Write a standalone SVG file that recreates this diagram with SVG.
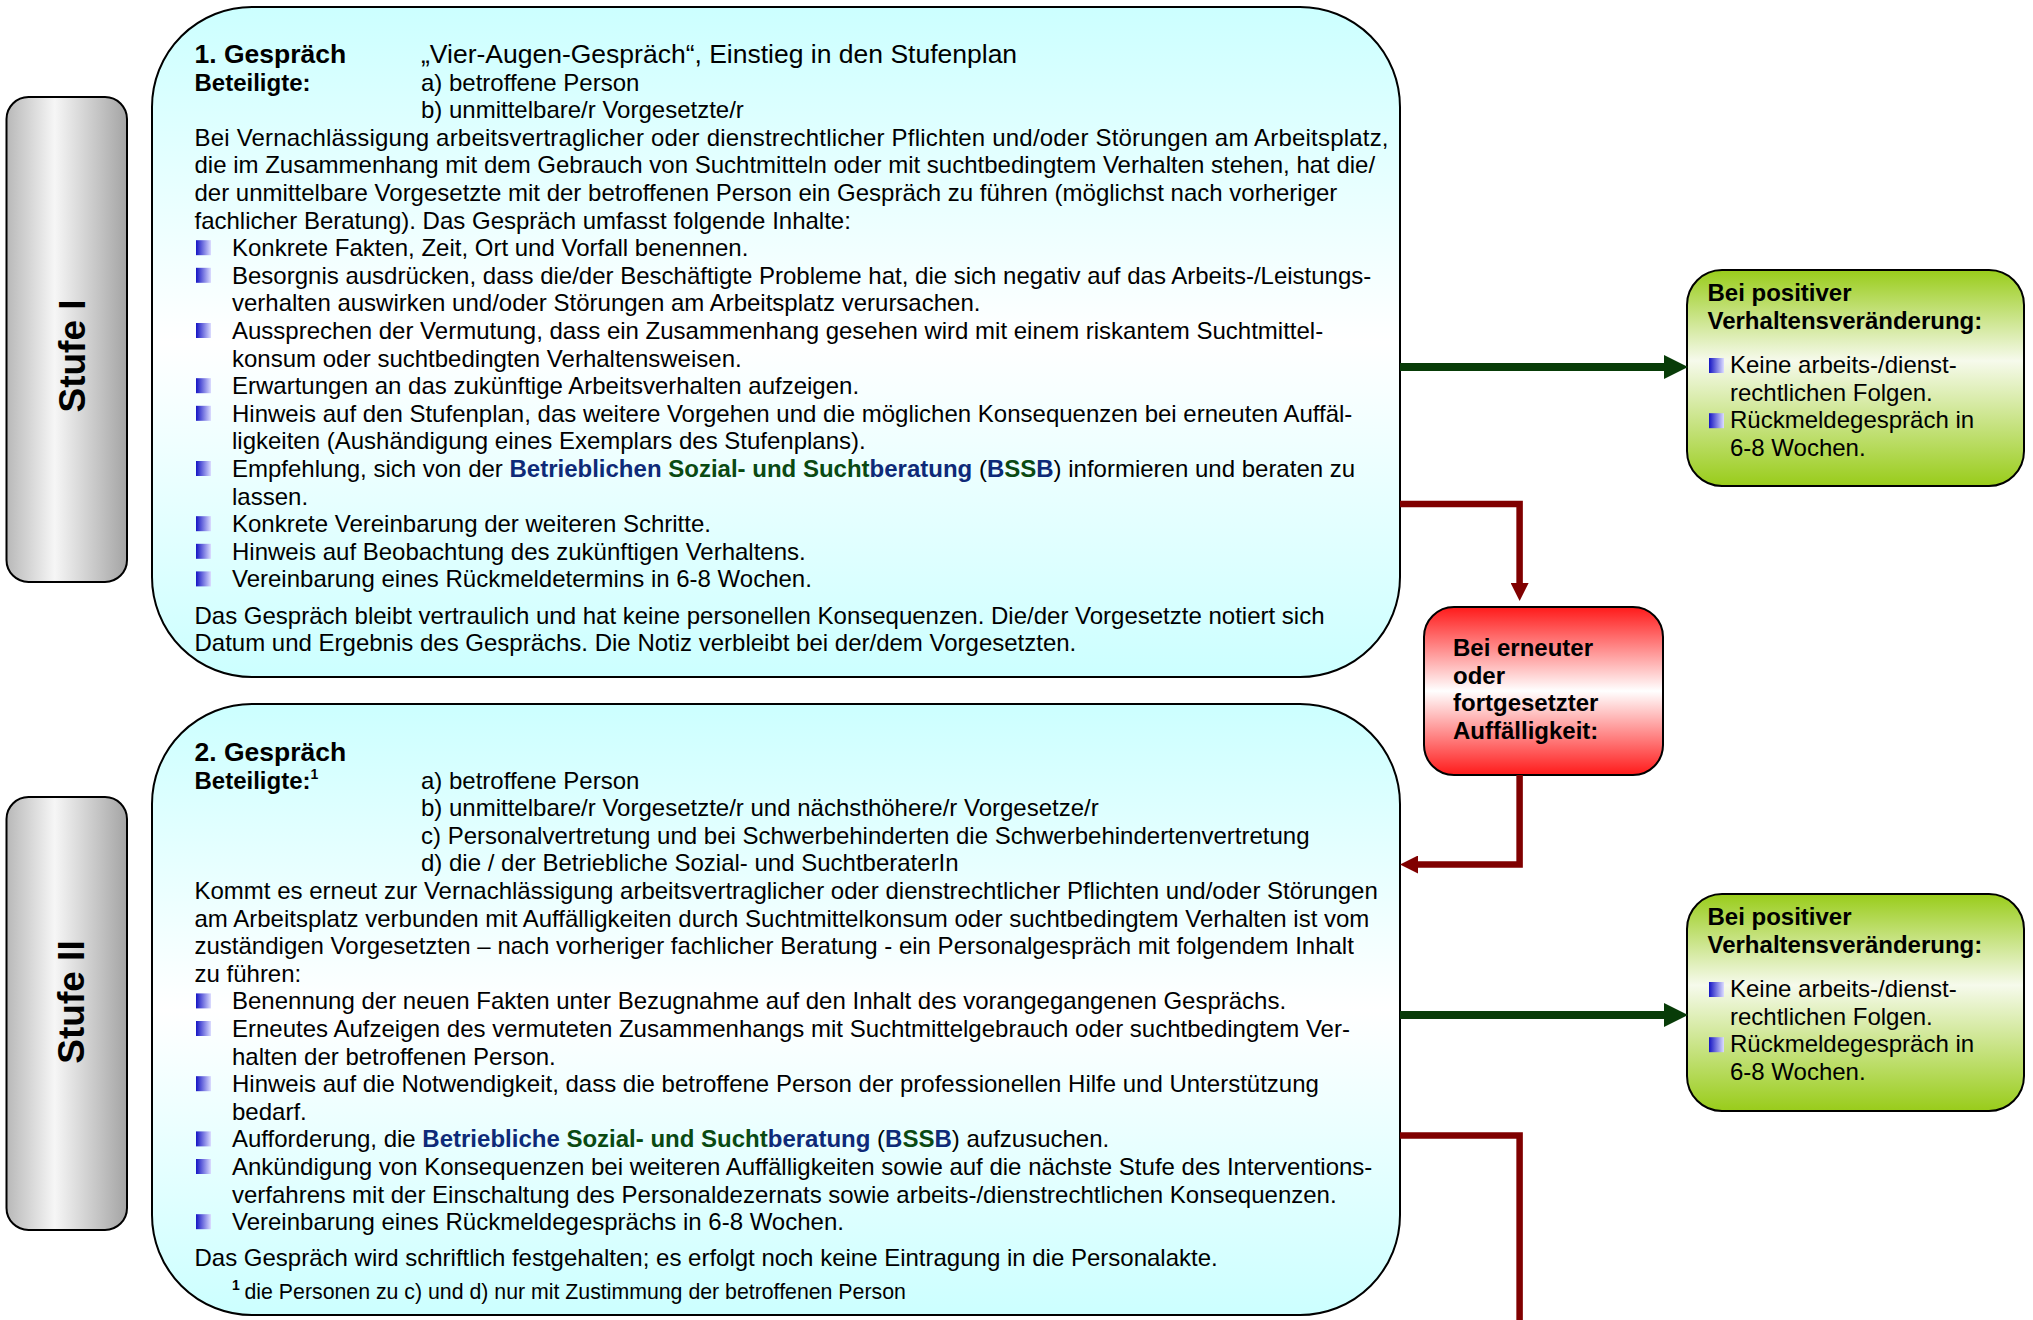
<svg xmlns="http://www.w3.org/2000/svg" width="2033" height="1320" viewBox="0 0 2033 1320">
<defs>
  <linearGradient id="gCyan" x1="0" y1="0" x2="0" y2="1">
    <stop offset="0" stop-color="#ccffff"/>
    <stop offset="0.5" stop-color="#ffffff"/>
    <stop offset="1" stop-color="#ccffff"/>
  </linearGradient>
  <linearGradient id="gGrey" x1="0" y1="0" x2="1" y2="0">
    <stop offset="0" stop-color="#b8b8b8"/>
    <stop offset="0.4" stop-color="#f6f6f6"/>
    <stop offset="1" stop-color="#a4a4a4"/>
  </linearGradient>
  <linearGradient id="gGreen" x1="0" y1="0" x2="0" y2="1">
    <stop offset="0" stop-color="#99cc1a"/>
    <stop offset="0.42" stop-color="#f6faec"/>
    <stop offset="1" stop-color="#99cc1a"/>
  </linearGradient>
  <linearGradient id="gRed" x1="0" y1="0" x2="0" y2="1">
    <stop offset="0" stop-color="#ff1a1a"/>
    <stop offset="0.5" stop-color="#ffffff"/>
    <stop offset="1" stop-color="#ff1a1a"/>
  </linearGradient>
  <linearGradient id="gBullet" x1="0" y1="0" x2="1" y2="0">
    <stop offset="0" stop-color="#1414c4"/>
    <stop offset="1" stop-color="#dcdcff"/>
  </linearGradient>
  <marker id="arrGreen" markerUnits="userSpaceOnUse" markerWidth="24" markerHeight="24" refX="0" refY="12" orient="auto">
    <path d="M0,0 L24,12 L0,24 Z" fill="#083c08"/>
  </marker>
  <marker id="arrRed" markerUnits="userSpaceOnUse" markerWidth="18" markerHeight="18" refX="0" refY="9" orient="auto">
    <path d="M0,0 L18,9 L0,18 Z" fill="#800000"/>
  </marker>
  <style>
    text { font-family: "Liberation Sans", Arial, sans-serif; fill: #000; }
    .box { stroke: #000; stroke-width: 2; }
    .t { font-size: 24px; }
    .tl { font-size: 26.5px; }
    .b { font-weight: bold; }
    .fn { font-size: 21.3px; }
    .sup { font-size: 14px; font-weight: bold; }
    .lbl { font-size: 37px; font-weight: bold; }
    .blue { fill: #0e2a78; font-weight: bold; }
    .green { fill: #0a4a12; font-weight: bold; }
    .bl { fill: url(#gBullet); }
    .cg { fill: none; stroke: #083c08; stroke-width: 8; }
    .cr { fill: none; stroke: #800000; stroke-width: 6.5; }
  </style>
</defs>

<g id="stufe1-label">
  <rect class="box" x="6.5" y="97" width="120.5" height="485" rx="22" fill="url(#gGrey)"/>
  <text class="lbl" text-anchor="middle" transform="translate(85,356) rotate(-90)">Stufe I</text>
</g>

<g id="stufe2-label">
  <rect class="box" x="6.5" y="797" width="120.5" height="433" rx="22" fill="url(#gGrey)"/>
  <text class="lbl" text-anchor="middle" transform="translate(84,1002) rotate(-90)">Stufe II</text>
</g>

<g id="gespraech1">
  <rect class="box" x="152" y="7" width="1248" height="670" rx="100" fill="url(#gCyan)"/>
  <text class="tl b" x="194.5" y="63">1. Gespräch</text>
  <text class="tl" x="421" y="63">„Vier-Augen-Gespräch“, Einstieg in den Stufenplan</text>
  <text class="t b" x="194.5" y="90.6">Beteiligte:</text>
  <text class="t" x="421" y="90.6">a) betroffene Person</text>
  <text class="t" x="421" y="118.2">b) unmittelbare/r Vorgesetzte/r</text>
  <text class="t" x="194.5" y="145.8" textLength="1194" lengthAdjust="spacing">Bei Vernachlässigung arbeitsvertraglicher oder dienstrechtlicher Pflichten und/oder Störungen am Arbeitsplatz,</text>
  <text class="t" x="194.5" y="173.4">die im Zusammenhang mit dem Gebrauch von Suchtmitteln oder mit suchtbedingtem Verhalten stehen, hat die/</text>
  <text class="t" x="194.5" y="201">der unmittelbare Vorgesetzte mit der betroffenen Person ein Gespräch zu führen (möglichst nach vorheriger</text>
  <text class="t" x="194.5" y="228.6">fachlicher Beratung). Das Gespräch umfasst folgende Inhalte:</text>
  <rect class="bl" x="196" y="240.2" width="15" height="15"/>
  <text class="t" x="232" y="256.2">Konkrete Fakten, Zeit, Ort und Vorfall benennen.</text>
  <rect class="bl" x="196" y="267.8" width="15" height="15"/>
  <text class="t" x="232" y="283.8">Besorgnis ausdrücken, dass die/der Beschäftigte Probleme hat, die sich negativ auf das Arbeits-/Leistungs-</text>
  <text class="t" x="232" y="311.4">verhalten auswirken und/oder Störungen am Arbeitsplatz verursachen.</text>
  <rect class="bl" x="196" y="323" width="15" height="15"/>
  <text class="t" x="232" y="339">Aussprechen der Vermutung, dass ein Zusammenhang gesehen wird mit einem riskantem Suchtmittel-</text>
  <text class="t" x="232" y="366.6">konsum oder suchtbedingten Verhaltensweisen.</text>
  <rect class="bl" x="196" y="378.2" width="15" height="15"/>
  <text class="t" x="232" y="394.2">Erwartungen an das zukünftige Arbeitsverhalten aufzeigen.</text>
  <rect class="bl" x="196" y="405.8" width="15" height="15"/>
  <text class="t" x="232" y="421.8">Hinweis auf den Stufenplan, das weitere Vorgehen und die möglichen Konsequenzen bei erneuten Auffäl-</text>
  <text class="t" x="232" y="449.4">ligkeiten (Aushändigung eines Exemplars des Stufenplans).</text>
  <rect class="bl" x="196" y="461" width="15" height="15"/>
  <text class="t" x="232" y="477">Empfehlung, sich von der <tspan class="blue">Betrieblichen </tspan><tspan class="green">Sozial- und Sucht</tspan><tspan class="blue">beratung</tspan> (<tspan class="blue">B</tspan><tspan class="green">SS</tspan><tspan class="blue">B</tspan>) informieren und beraten zu</text>
  <text class="t" x="232" y="504.6">lassen.</text>
  <rect class="bl" x="196" y="516.2" width="15" height="15"/>
  <text class="t" x="232" y="532.2">Konkrete Vereinbarung der weiteren Schritte.</text>
  <rect class="bl" x="196" y="543.8" width="15" height="15"/>
  <text class="t" x="232" y="559.8">Hinweis auf Beobachtung des zukünftigen Verhaltens.</text>
  <rect class="bl" x="196" y="571.4" width="15" height="15"/>
  <text class="t" x="232" y="587.4">Vereinbarung eines Rückmeldetermins in 6-8 Wochen.</text>
  <text class="t" x="194.5" y="623.5">Das Gespräch bleibt vertraulich und hat keine personellen Konsequenzen. Die/der Vorgesetzte notiert sich</text>
  <text class="t" x="194.5" y="651.1">Datum und Ergebnis des Gesprächs. Die Notiz verbleibt bei der/dem Vorgesetzten.</text>
</g>

<g id="gespraech2">
  <rect class="box" x="152" y="704" width="1248" height="611" rx="100" fill="url(#gCyan)"/>
  <text class="tl b" x="194.5" y="761">2. Gespräch</text>
  <text class="t b" x="194.5" y="788.6">Beteiligte:<tspan class="sup" dy="-10">1</tspan></text>
  <text class="t" x="421" y="788.6">a) betroffene Person</text>
  <text class="t" x="421" y="816.2">b) unmittelbare/r Vorgesetzte/r und nächsthöhere/r Vorgesetze/r</text>
  <text class="t" x="421" y="843.8">c) Personalvertretung und bei Schwerbehinderten die Schwerbehindertenvertretung</text>
  <text class="t" x="421" y="871.4">d) die / der Betriebliche Sozial- und SuchtberaterIn</text>
  <text class="t" x="194.5" y="899">Kommt es erneut zur Vernachlässigung arbeitsvertraglicher oder dienstrechtlicher Pflichten und/oder Störungen</text>
  <text class="t" x="194.5" y="926.6">am Arbeitsplatz verbunden mit Auffälligkeiten durch Suchtmittelkonsum oder suchtbedingtem Verhalten ist vom</text>
  <text class="t" x="194.5" y="954.2">zuständigen Vorgesetzten – nach vorheriger fachlicher Beratung - ein Personalgespräch mit folgendem Inhalt</text>
  <text class="t" x="194.5" y="981.8">zu führen:</text>
  <rect class="bl" x="196" y="993.4" width="15" height="15"/>
  <text class="t" x="232" y="1009.4">Benennung der neuen Fakten unter Bezugnahme auf den Inhalt des vorangegangenen Gesprächs.</text>
  <rect class="bl" x="196" y="1021" width="15" height="15"/>
  <text class="t" x="232" y="1037">Erneutes Aufzeigen des vermuteten Zusammenhangs mit Suchtmittelgebrauch oder suchtbedingtem Ver-</text>
  <text class="t" x="232" y="1064.6">halten der betroffenen Person.</text>
  <rect class="bl" x="196" y="1076.2" width="15" height="15"/>
  <text class="t" x="232" y="1092.2">Hinweis auf die Notwendigkeit, dass die betroffene Person der professionellen Hilfe und Unterstützung</text>
  <text class="t" x="232" y="1119.8">bedarf.</text>
  <rect class="bl" x="196" y="1131.4" width="15" height="15"/>
  <text class="t" x="232" y="1147.4">Aufforderung, die <tspan class="blue">Betriebliche </tspan><tspan class="green">Sozial- und Sucht</tspan><tspan class="blue">beratung</tspan> (<tspan class="blue">B</tspan><tspan class="green">SS</tspan><tspan class="blue">B</tspan>) aufzusuchen.</text>
  <rect class="bl" x="196" y="1159" width="15" height="15"/>
  <text class="t" x="232" y="1175">Ankündigung von Konsequenzen bei weiteren Auffälligkeiten sowie auf die nächste Stufe des Interventions-</text>
  <text class="t" x="232" y="1202.6">verfahrens mit der Einschaltung des Personaldezernats sowie arbeits-/dienstrechtlichen Konsequenzen.</text>
  <rect class="bl" x="196" y="1214.2" width="15" height="15"/>
  <text class="t" x="232" y="1230.2">Vereinbarung eines Rückmeldegesprächs in 6-8 Wochen.</text>
  <text class="t" x="194.5" y="1266">Das Gespräch wird schriftlich festgehalten; es erfolgt noch keine Eintragung in die Personalakte.</text>
  <text class="sup" x="232" y="1290">1</text>
  <text class="fn" x="244.5" y="1299">die Personen zu c) und d) nur mit Zustimmung der betroffenen Person</text>
</g>

<g id="positiv1">
  <rect class="box" x="1687" y="270" width="337" height="216" rx="35" fill="url(#gGreen)"/>
  <text class="t b" x="1707.5" y="301">Bei positiver</text>
  <text class="t b" x="1707.5" y="329">Verhaltensveränderung:</text>
  <rect class="bl" x="1709" y="358" width="15" height="15"/>
  <text class="t" x="1730" y="373">Keine arbeits-/dienst-</text>
  <text class="t" x="1730" y="400.6">rechtlichen Folgen.</text>
  <rect class="bl" x="1709" y="413.2" width="15" height="15"/>
  <text class="t" x="1730" y="428.2">Rückmeldegespräch in</text>
  <text class="t" x="1730" y="455.8">6-8 Wochen.</text>
</g>

<g id="positiv2">
  <rect class="box" x="1687" y="894" width="337" height="217" rx="35" fill="url(#gGreen)"/>
  <text class="t b" x="1707.5" y="925">Bei positiver</text>
  <text class="t b" x="1707.5" y="953">Verhaltensveränderung:</text>
  <rect class="bl" x="1709" y="982" width="15" height="15"/>
  <text class="t" x="1730" y="997">Keine arbeits-/dienst-</text>
  <text class="t" x="1730" y="1024.6">rechtlichen Folgen.</text>
  <rect class="bl" x="1709" y="1037.2" width="15" height="15"/>
  <text class="t" x="1730" y="1052.2">Rückmeldegespräch in</text>
  <text class="t" x="1730" y="1079.8">6-8 Wochen.</text>
</g>

<g id="erneut">
  <rect class="box" x="1424" y="607" width="239" height="168" rx="30" fill="url(#gRed)"/>
  <text class="t b" x="1453" y="656">Bei erneuter</text>
  <text class="t b" x="1453" y="683.5">oder</text>
  <text class="t b" x="1453" y="711">fortgesetzter</text>
  <text class="t b" x="1453" y="738.5">Auffälligkeit:</text>
</g>

<g id="connectors">
  <path class="cg" d="M1400,367 H1664" marker-end="url(#arrGreen)"/>
  <path class="cg" d="M1400,1015 H1664" marker-end="url(#arrGreen)"/>
  <path class="cr" d="M1400,504 H1519.6 V583" marker-end="url(#arrRed)"/>
  <path class="cr" d="M1519.6,775 V864.5 H1418" marker-end="url(#arrRed)"/>
  <path class="cr" d="M1400,1135.5 H1519.6 V1320"/>
</g>
</svg>
